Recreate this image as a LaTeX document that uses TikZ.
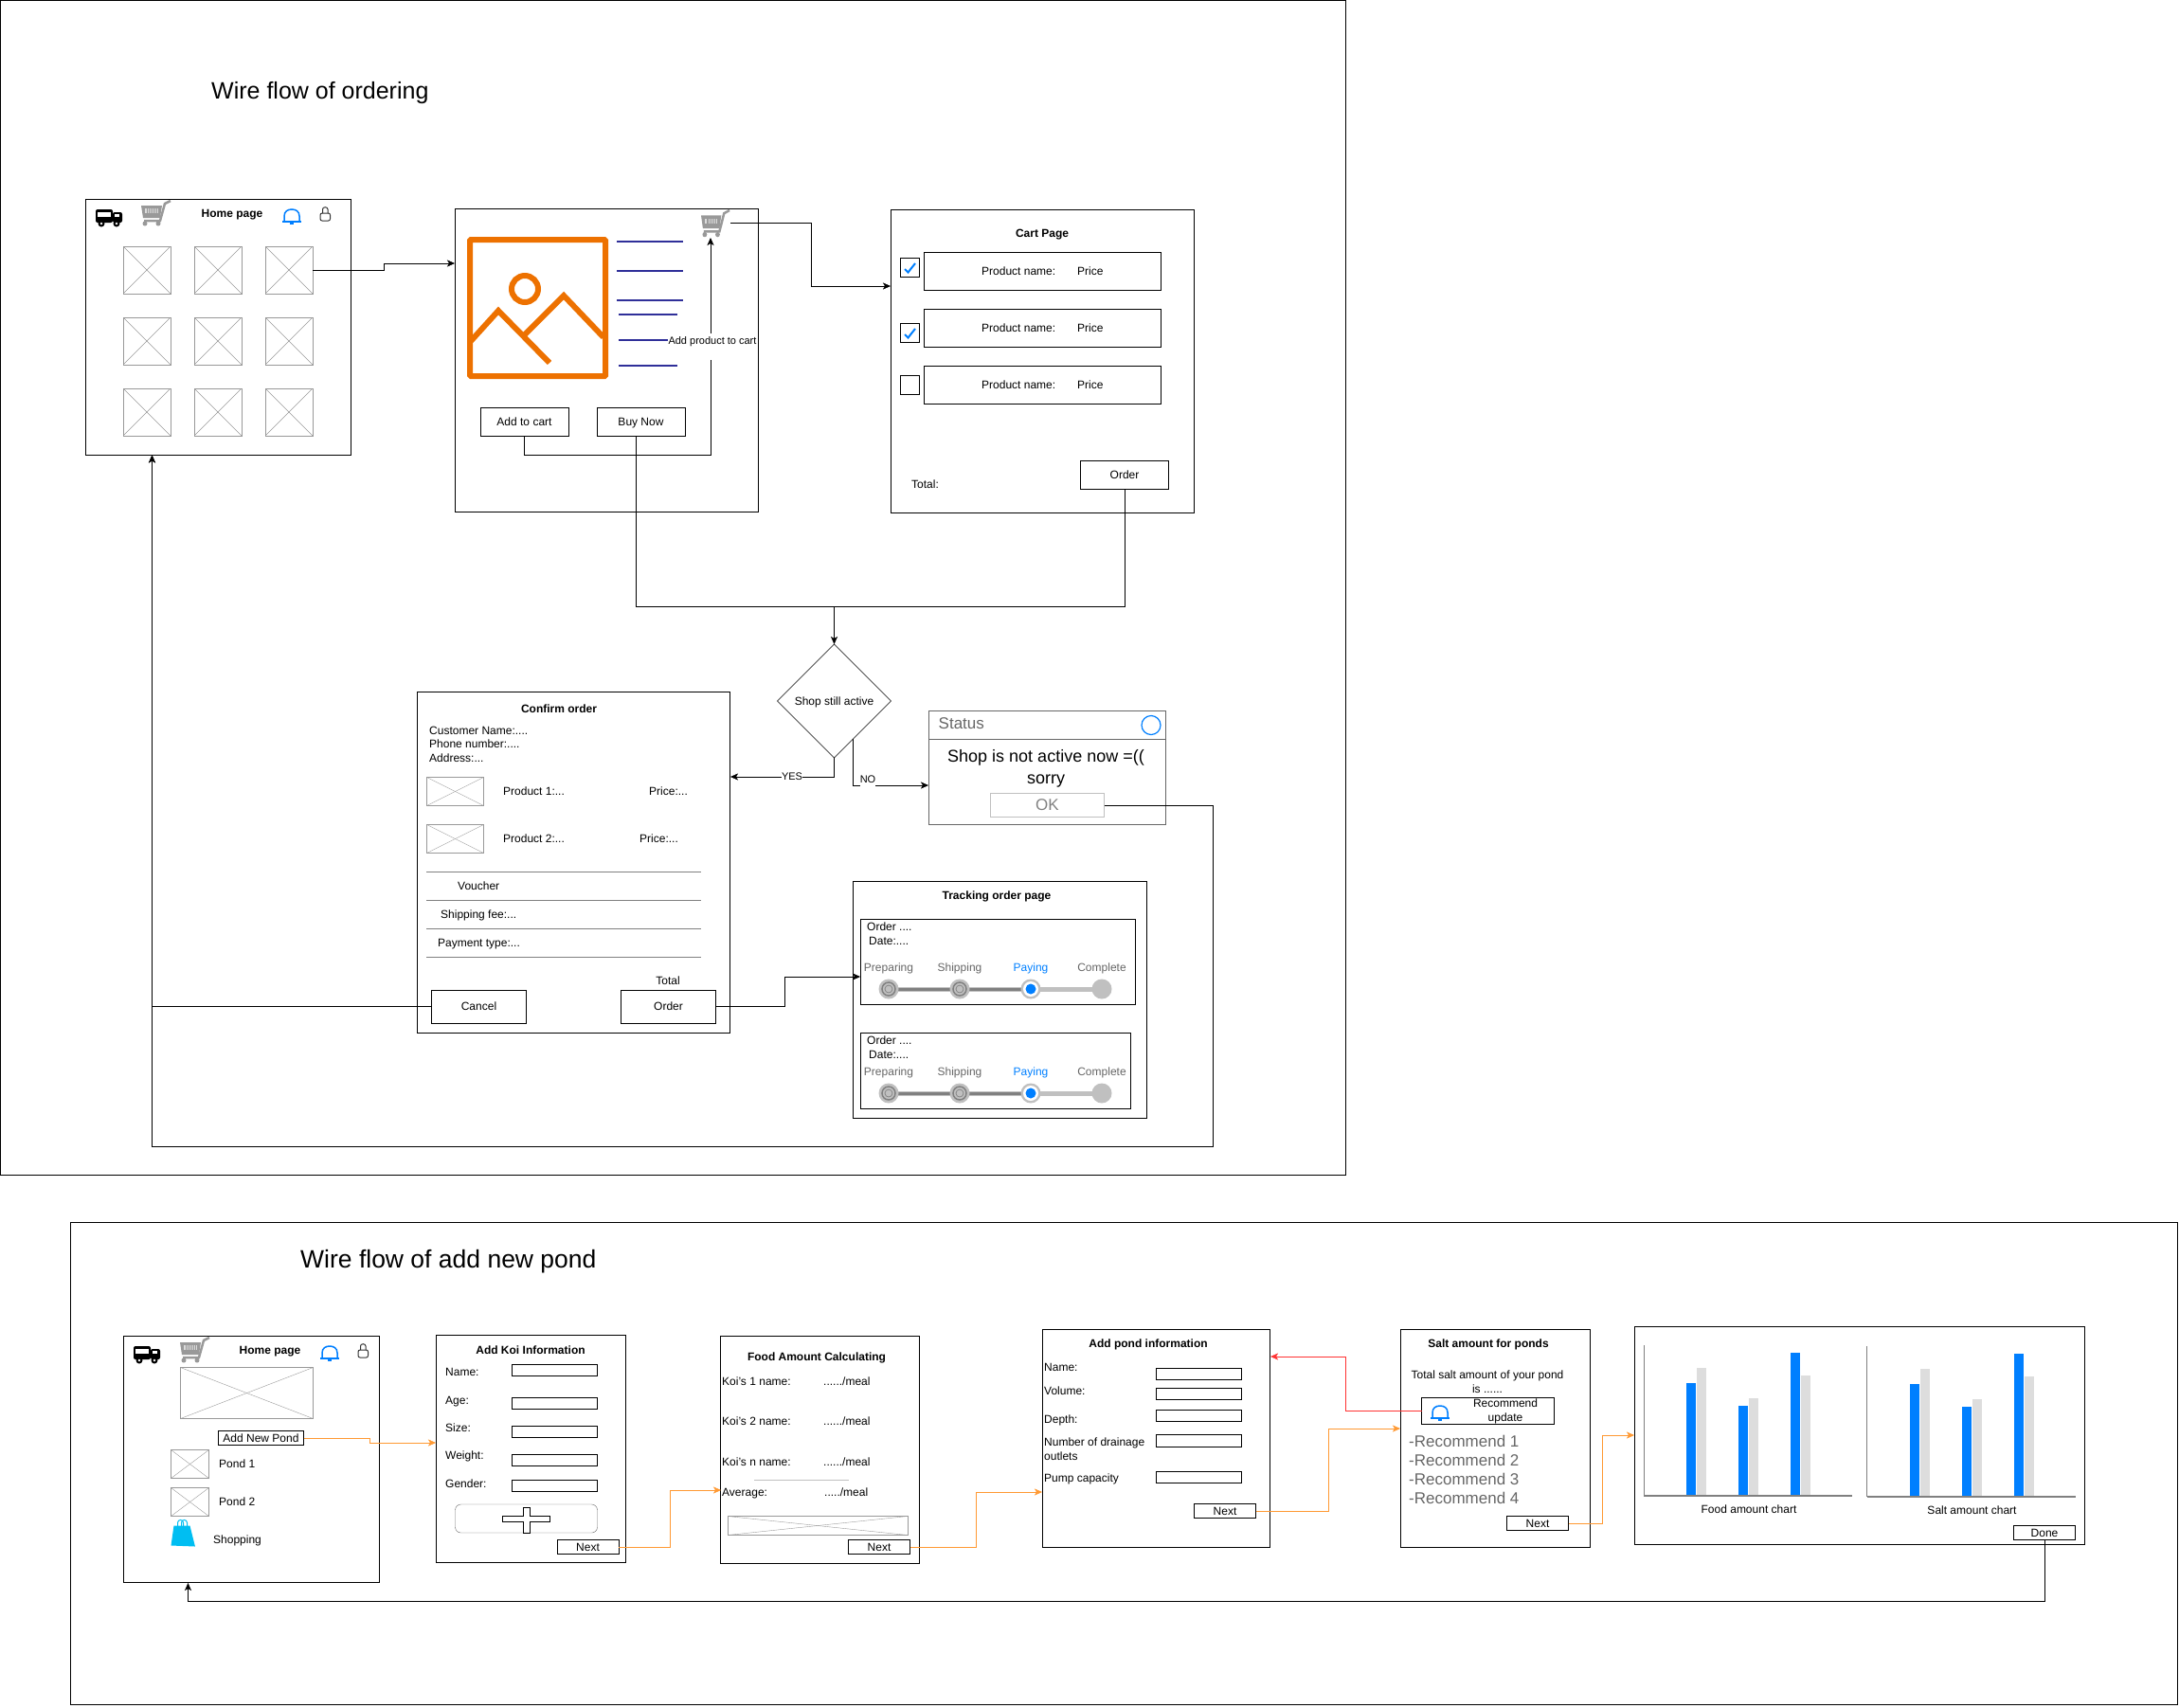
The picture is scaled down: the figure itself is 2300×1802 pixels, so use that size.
\documentclass[tikz,border=0pt]{standalone}
\usepackage{fontspec}
\setmainfont{Liberation Sans}
\usepackage{tikz}
\usetikzlibrary{arrows.meta,shapes.geometric}
\definecolor{mockblue}{HTML}{007FFF}
\definecolor{mockgray}{HTML}{999999}
\definecolor{textgray}{HTML}{666666}
\definecolor{stepgray}{HTML}{C0C0C0}
\definecolor{stepdark}{HTML}{808080}
\definecolor{barlight}{HTML}{DDDDDD}
\definecolor{picorange}{HTML}{ED7100}
\definecolor{linkorange}{HTML}{FF9933}
\definecolor{linkred}{HTML}{FF3333}
\definecolor{textline}{HTML}{2F2F99}
\definecolor{bagcyan}{HTML}{00BEF2}
\tikzset{
  every node/.style={font=\fontsize{12}{15}\selectfont},
  >={Stealth[length=8pt,width=7pt,inset=2pt]},
  wh/.style 2 args={minimum width=#1pt,minimum height=#2pt},
  oneline/.style={text height=10pt,text depth=2pt},
  bigline/.style={text height=13.5pt,text depth=2.5pt},
  multi/.style={text height=,text depth=},
  box/.style={draw,rectangle,inner sep=0pt,outer sep=0pt,anchor=north west,align=center,oneline},
  mockimg/.style={box,draw=mockgray,path picture={
    \draw[mockgray] (path picture bounding box.north west) -- (path picture bounding box.south east);
    \draw[mockgray] (path picture bounding box.south west) -- (path picture bounding box.north east);}},
  txt/.style={inner sep=0pt,anchor=west,align=left,oneline},
  ctr/.style={inner sep=0pt,align=center,oneline},
  heading/.style={ctr,font=\fontsize{12}{15}\selectfont\bfseries},
  bigtitle/.style={inner sep=0pt,anchor=west},
  steptxt/.style={ctr,text=textgray},
  rectxt/.style={txt,text=textgray,font=\fontsize{17}{20}\selectfont,bigline},
  edgetxt/.style={inner sep=0pt,fill=white,font=\fontsize{11}{13}\selectfont},
  link/.style={->,color=linkorange},
  truck/.pic={
    \fill[black,rounded corners=2pt] (0,1) rectangle (18,15);
    \fill[black,rounded corners=2pt] (18,4) rectangle (28,15);
    \fill[white] (2,3.5) rectangle (16,9);
    \fill[white] (20,6) rectangle (25,9);
    \fill[black] (6,16) circle (3.5);
    \fill[black] (22,16) circle (3.5);
    \fill[white] (6,16) circle (1.3);
    \fill[white] (22,16) circle (1.3);
  },
  cart/.pic={
    \fill[mockgray] (0,5) -- (22,5) -- (20,18) -- (2,18) -- cycle;
    \fill[mockgray!35] (4,8) rectangle (18,13);
    \foreach \gx in {6,8,10,12,14,16} {\draw[mockgray,line width=.6pt] (\gx,8) -- (\gx,13);}
    \draw[mockgray,line width=2.5pt] (3,21) -- (20,21) -- (25,3) -- (31,0);
    \fill[mockgray] (4,24) circle (2.5);
    \fill[mockgray] (18,24) circle (2.5);
  },
  bell/.pic={
    \draw[mockblue,line width=1.5pt] (2,13) -- (2,7) .. controls (2,2) and (6,0) .. (10,0) .. controls (14,0) and (18,2) .. (18,7) -- (18,13);
    \draw[mockblue,line width=1.5pt] (0,13) -- (20,13);
    \draw[mockblue,line width=1.5pt] (8,15) -- (12,15);
  },
  user/.pic={
    \draw[black!80,line width=1pt,rounded corners=2pt] (0.5,15) rectangle (11,7);
    \draw[black!80,line width=1pt] (3,7) -- (3,3) .. controls (3,0) and (8.5,0) .. (8.5,3) -- (8.5,7);
  },
  bag/.pic={
    \fill[bagcyan] (3,7) -- (20,7) -- (25.5,29) -- (0,28) -- cycle;
    \draw[bagcyan,line width=1pt] (7,10) -- (7,4) .. controls (7,0) and (13,0) .. (13,4) -- (13,10);
    \draw[bagcyan,line width=1pt] (11,10) -- (11,4) .. controls (11,0) and (17,0) .. (17,4) -- (17,10);
  },
  stepper/.pic={
    \node[steptxt] (prep) at (0,0) {Preparing};
    \node[steptxt] (ship) at (75,0) {Shipping};
    \node[ctr,text=mockblue] (pay) at (150,0) {Paying};
    \node[steptxt] (comp) at (225,0) {Complete};
    \draw[stepgray,line width=5pt] (0,23) -- (225,23);
    \draw[stepdark,line width=3pt] (0,23) -- (150,23);
    \fill[stepgray] (0,23) circle (10.5);
    \draw[stepdark,line width=1.5pt,fill=stepgray] (0,23) circle (7);
    \draw[stepdark,line width=.7pt] (0,23) circle (4);
    \fill[stepgray] (75,23) circle (10.5);
    \draw[stepdark,line width=1.5pt,fill=stepgray] (75,23) circle (7);
    \draw[stepdark,line width=.7pt] (75,23) circle (4);
    \fill[stepgray] (150,23) circle (10.5);
    \fill[white] (150,23) circle (8);
    \fill[mockblue] (150,23) circle (5.5);
    \fill[stepgray] (225,23) circle (10.5);
  },
  barchart/.pic={
    \draw[stepdark] (0,0) -- (0,159);
    \fill[mockblue] (45,40) rectangle (55,159);
    \fill[barlight] (56,24) rectangle (66,159);
    \fill[mockblue] (100,64) rectangle (110,159);
    \fill[barlight] (111,56) rectangle (121,159);
    \fill[mockblue] (155,8) rectangle (165,159);
    \fill[barlight] (166,32) rectangle (176,159);
    \draw[stepdark,line width=2pt] (0,159) -- (220,159);
    \node[ctr] (name) at (111,173) {#1};
  }
}
\begin{document}
\begin{tikzpicture}[x=1pt,y=-1pt]
\useasboundingbox (0,0) rectangle (2300,1802);
\node[box,wh={1420}{1240}] (frameA) at (0.5,0.5) {};
\node[box,wh={2224}{509}] (frameB) at (74.5,1290.5) {};
\node[bigtitle,font=\fontsize{25}{30}\selectfont] (titleA) at (223,98.5) {Wire flow of ordering};
\node[bigtitle,font=\fontsize{26.5}{30}\selectfont] (titleB) at (317,1331.5) {Wire flow of add new pond};

\node[box,wh={280}{270}] (home1) at (90.5,210.5) {};
\pic at (101,220) {truck};
\pic at (149,212) {cart};
\node[heading] (home1title) at (245,225) {Home page};
\pic at (298,221) {bell};
\pic at (337.5,218) {user};
\node[mockimg,wh={50}{50}] (p11) at (130,260) {};
\node[mockimg,wh={50}{50}] (p12) at (205,260) {};
\node[mockimg,wh={50}{50}] (p13) at (280,260) {};
\node[mockimg,wh={50}{50}] (p21) at (130,335) {};
\node[mockimg,wh={50}{50}] (p22) at (205,335) {};
\node[mockimg,wh={50}{50}] (p23) at (280,335) {};
\node[mockimg,wh={50}{50}] (p31) at (130,410) {};
\node[mockimg,wh={50}{50}] (p32) at (205,410) {};
\node[mockimg,wh={50}{50}] (p33) at (280,410) {};

\node[box,wh={320}{320}] (prodpage) at (480.5,220.5) {};
\draw[picorange,line width=6pt,rounded corners=1pt] (496,253) rectangle (639,397);
\draw[picorange,line width=6pt] (554,305) circle (14);
\draw[picorange,line width=6pt] (497,360) -- (526,328) -- (580,383);
\draw[picorange,line width=6pt] (554,353) -- (595,312) -- (637,356);
\draw[textline,line width=1.5pt] (651,255) -- (721,255);
\draw[textline,line width=1.5pt] (651,286) -- (721,286);
\draw[textline,line width=1.5pt] (651,317) -- (721,317);
\draw[textline,line width=1.5pt] (653,332) -- (715,332);
\draw[textline,line width=1.5pt] (653,359) -- (715,359);
\draw[textline,line width=1.5pt] (653,386) -- (715,386);
\pic[scale=.97,yscale=1.1] at (740,222) {cart};
\node[box,wh={93}{30}] (addcart) at (507,430.5) {Add to cart};
\node[box,wh={93}{30}] (buynow) at (630,430.5) {Buy Now};

\node[box,wh={320}{320}] (cartpage) at (940.5,221.5) {};
\node[heading] (carttitle) at (1100,246) {Cart Page};
\node[box,wh={250}{40}] (row1) at (975,266.5) {};
\node[box,wh={250}{40}] (row2) at (975,326.5) {};
\node[box,wh={250}{40}] (row3) at (975,386.5) {};
\node[box,wh={20}{20}] (check1) at (950.5,272.5) {};
\node[box,wh={20}{20}] (check2) at (950.5,341.5) {};
\node[box,wh={20}{20}] (check3) at (950.5,396.5) {};
\draw[mockblue,line width=2pt] (955,284) -- (958.5,287.5) -- (966,278);
\draw[mockblue,line width=2pt] (955,353) -- (958.5,356.5) -- (966,347);
\node[txt] (name1) at (1036,286) {Product name:};
\node[txt] (price1) at (1137,286) {Price};
\node[txt] (name2) at (1036,346) {Product name:};
\node[txt] (price2) at (1137,346) {Price};
\node[txt] (name3) at (1036,406) {Product name:};
\node[txt] (price3) at (1137,406) {Price};
\node[txt] (carttotal) at (962,511) {Total:};
\node[box,wh={93}{30}] (cartorder) at (1140.5,486.5) {Order};

\node[draw,diamond,aspect=1,inner sep=0pt,outer sep=0pt,oneline,wh={120}{120}] (diam) at (880.5,740) {Shop still active};

\node[box,wh={330}{360}] (confirm) at (440.5,730.5) {};
\node[heading] (conftitle) at (590,748) {Confirm order};
\node[txt] (cname) at (453,771) {Customer Name:....};
\node[txt] (cphone) at (453,785) {Phone number:....};
\node[txt] (caddr) at (453,800) {Address:...};
\node[mockimg,wh={60}{30}] (prod1) at (450.5,820.5) {};
\node[mockimg,wh={60}{30}] (prod2) at (450.5,870.5) {};
\node[txt] (prod1name) at (531,835) {Product 1:...};
\node[txt] (prod1price) at (685,835) {Price:...};
\node[txt] (prod2name) at (531,885) {Product 2:...};
\node[txt] (prod2price) at (675,885) {Price:...};
\draw[stepdark] (450,920.5) -- (740,920.5);
\draw[stepdark] (450,950.5) -- (740,950.5);
\draw[stepdark] (450,980.5) -- (740,980.5);
\draw[stepdark] (450,1010.5) -- (740,1010.5);
\node[txt] (voucher) at (483,935) {Voucher};
\node[txt] (shipfee) at (465,965) {Shipping fee:...};
\node[txt] (paytype) at (462,995) {Payment type:...};
\node[ctr] (conftotal) at (705,1035) {Total};
\node[box,wh={100}{35}] (cancel) at (455.5,1045) {Cancel};
\node[box,wh={100}{35}] (order) at (655.5,1045) {Order};

\node[box,draw=textgray,wh={250}{120}] (status) at (980.5,750.5) {};
\draw[textgray] (980.5,780.5) -- (1230.5,780.5);
\node[rectxt] (statustitle) at (990.5,764) {Status};
\draw[mockblue,line width=1.2pt] (1215,765.5) circle (10);
\node[ctr,multi,font=\fontsize{18}{23}\selectfont] (statusmsg) at (1104,811.5) {Shop is not active now =((\\sorry};
\node[box,draw=stepgray,text=stepdark,font=\fontsize{17}{20}\selectfont,bigline,wh={120}{25}] (okbtn) at (1045.5,837.5) {OK};

\node[box,wh={310}{250}] (track) at (900.5,930.5) {};
\node[heading] (tracktitle) at (1052,945) {Tracking order page};
\node[box,wh={290}{90}] (trk1box) at (908,970.5) {};
\node[txt] (trk1order) at (915,978) {Order ....};
\node[txt] (trk1date) at (917,993) {Date:....};
\pic (trkA) at (938,1021) {stepper};
\node[box,wh={285}{80}] (trk2box) at (908,1090.5) {};
\node[txt] (trk2order) at (915,1098) {Order ....};
\node[txt] (trk2date) at (917,1113) {Date:....};
\pic (trkB) at (938,1131) {stepper};

\coordinate (prodin) at (480,278);
\coordinate (cartout) at (771,235);
\coordinate (cartin) at (940,302);
\coordinate (smallcart) at (750,251);
\coordinate (buyout) at (671,460);
\coordinate (junc) at (880.5,640);
\coordinate (noout) at (900.5,780);
\coordinate (statin) at (980,829);
\coordinate (confin) at (771,820);
\coordinate (trkin) at (908,1031);
\coordinate (homein) at (160.5,480.5);
\draw[->] (p13.east) -- ++(75,0) |- (prodin);
\draw[->] (cartout) -- ++(85,0) |- (cartin);
\draw[->] (addcart.south) -- ++(0,20) -| (smallcart);
\node[edgetxt,anchor=base,text height=11pt,text depth=17pt,minimum width=94pt] (addlabel) at (752,363) {Add product to cart};
\draw (buyout) |- (junc);
\draw (cartorder.south) |- (junc);
\draw[->] (junc) -- (diam.north);
\draw[->] (diam.south) |- (confin);
\node[edgetxt,text height=9pt,text depth=2pt] (yeslabel) at (836,820) {YES};
\draw[->] (noout) |- (statin);
\node[edgetxt,anchor=base,text height=9pt,text depth=7pt] (nolabel) at (916,826) {NO};
\draw[->] (order.east) -- ++(73,0) |- (trkin);
\draw[->] (cancel.west) -| (homein);
\draw[->] (okbtn.east) -- ++(115,0) -- ++(0,360) -| (homein);

\node[box,wh={270}{260}] (home2) at (130.5,1410.5) {};
\pic at (141,1420) {truck};
\pic at (190,1412) {cart};
\node[heading] (home2title) at (285,1425) {Home page};
\pic at (338,1421) {bell};
\pic at (377.5,1418) {user};
\node[mockimg,wh={140}{54}] (banner) at (190.5,1443.5) {};
\node[box,wh={90}{15}] (addpond) at (230.5,1510.5) {Add New Pond};
\node[mockimg,wh={40}{30}] (pond1) at (180.5,1530.5) {};
\node[txt] (pond1name) at (231,1545) {Pond 1};
\node[mockimg,wh={40}{30}] (pond2) at (180.5,1570.5) {};
\node[txt] (pond2name) at (231,1585) {Pond 2};
\pic at (180.5,1603.5) {bag};
\node[txt] (shopping) at (225,1625) {Shopping};

\node[box,wh={200}{240}] (koi) at (460.5,1409) {};
\node[heading] (koititle) at (560,1425) {Add Koi Information};
\node[txt] (koiname) at (470,1448) {Name:};
\node[txt] (koiage) at (470,1478) {Age:};
\node[txt] (koisize) at (470,1507) {Size:};
\node[txt] (koiweight) at (470,1536) {Weight:};
\node[txt] (koigender) at (470,1566) {Gender:};
\node[box,wh={90}{10}] (koifield1) at (540.5,1440.5) {};
\node[box,wh={90}{10}] (koifield2) at (540.5,1475.5) {};
\node[box,wh={90}{10}] (koifield3) at (540.5,1505.5) {};
\node[box,wh={90}{10}] (koifield4) at (540.5,1535.5) {};
\node[box,wh={90}{10}] (koifield5) at (540.5,1562.5) {};
\node[box,draw=textgray,rounded corners=6pt,wh={150}{30}] (addkoi) at (480.5,1588) {};
\draw (552,1591) -- (559,1591) -- (559,1600) -- (580.5,1600) -- (580.5,1606) -- (559,1606) -- (559,1618) -- (552,1618) -- (552,1606) -- (530.5,1606) -- (530.5,1600) -- (552,1600) -- cycle;
\node[box,wh={65}{15}] (next1) at (588,1625.5) {Next};

\node[box,wh={210}{240}] (food) at (760.5,1410.5) {};
\node[heading] (foodtitle) at (862,1432) {Food Amount Calculating};
\node[txt] (food1) at (762,1458) {Koi's 1 name:};
\node[txt] (meal1) at (869,1458) {....../meal};
\node[txt] (food2) at (762,1500) {Koi's 2 name:};
\node[txt] (meal2) at (869,1500) {....../meal};
\node[txt] (foodn) at (762,1543) {Koi's n name:};
\node[txt] (mealn) at (869,1543) {....../meal};
\draw[stepgray] (796,1562) -- (896,1562);
\node[txt] (foodavg) at (762,1575) {Average:};
\node[txt] (mealavg) at (870,1575) {...../meal};
\node[mockimg,wh={190}{20}] (foodimg) at (768,1600.5) {};
\node[box,wh={65}{15}] (next2) at (895.5,1625.5) {Next};

\node[box,wh={240}{230}] (pond) at (1100.5,1403) {};
\node[heading] (pondtitle) at (1212,1418) {Add pond information};
\node[txt] (pondname) at (1102,1443) {Name:};
\node[txt] (pondvol) at (1102,1468) {Volume:};
\node[txt] (ponddepth) at (1102,1498) {Depth:};
\node[txt,multi] (ponddrain) at (1102,1530) {Number of drainage\\outlets};
\node[txt] (pondpump) at (1102,1560) {Pump capacity};
\node[box,wh={90}{10}] (pondfield1) at (1220.5,1444) {};
\node[box,wh={90}{10}] (pondfield2) at (1220.5,1465.5) {};
\node[box,wh={90}{10}] (pondfield3) at (1220.5,1488.5) {};
\node[box,wh={90}{13}] (pondfield4) at (1220.5,1514.5) {};
\node[box,wh={90}{10}] (pondfield5) at (1220.5,1553) {};
\node[box,wh={65}{15}] (next3) at (1260.5,1587.5) {Next};

\node[box,wh={200}{230}] (salt) at (1478,1403) {};
\node[heading] (salttitle) at (1571,1418) {Salt amount for ponds};
\node[ctr,multi] (salttotal) at (1570,1458.5) {Total salt amount of your pond\\is ......};
\node[box,wh={140}{28}] (recom) at (1500.5,1475.5) {};
\pic at (1510,1484) {bell};
\node[ctr,multi] (recomtxt) at (1589,1490) {Recommend\\update};
\node[rectxt] (rec1) at (1487,1522) {-Recommend 1};
\node[rectxt] (rec2) at (1487,1542) {-Recommend 2};
\node[rectxt] (rec3) at (1487,1562) {-Recommend 3};
\node[rectxt] (rec4) at (1487,1582) {-Recommend 4};
\node[box,wh={65}{15}] (next4) at (1590.5,1600.5) {Next};

\node[box,wh={475}{230}] (charts) at (1725.5,1400.5) {};
\pic (foodchart) at (1735,1420) {barchart={Food amount chart}};
\pic (saltchart) at (1970.5,1421) {barchart={Salt amount chart}};
\node[box,wh={65}{15}] (done) at (2125.5,1610.5) {Done};

\coordinate (koiin) at (460,1523);
\coordinate (foodin) at (761,1573);
\coordinate (pondin) at (1100,1575);
\coordinate (pondred) at (1341,1432);
\coordinate (saltin) at (1478,1508);
\coordinate (chartin) at (1725,1515);
\coordinate (home2in) at (198.5,1671);
\draw[link] (addpond.east) -- ++(70,0) |- (koiin);
\draw[link] (next1.east) -- ++(54,0) |- (foodin);
\draw[link] (next2.east) -- ++(70,0) |- (pondin);
\draw[link] (next3.east) -- ++(77,0) |- (saltin);
\draw[link] (next4.east) -- ++(36,0) |- (chartin);
\draw[link,color=linkred] (recom.west) -- ++(-80,0) |- (pondred);
\draw[->] (done.south) -- ++(0,65) -| (home2in);
\end{tikzpicture}
\end{document}
